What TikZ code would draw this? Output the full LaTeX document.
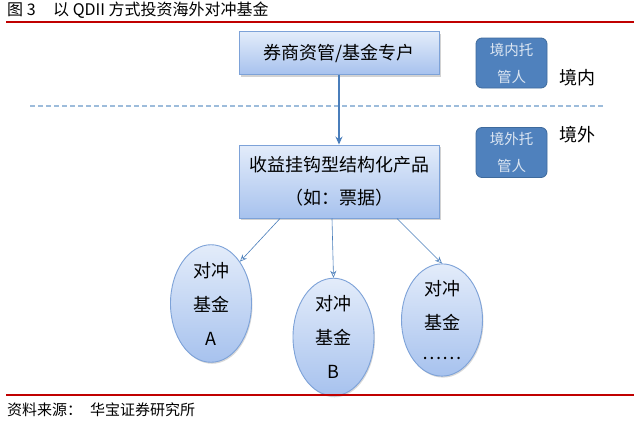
\documentclass[tikz,border=0pt]{standalone}
\usepackage{fontspec}
\setmainfont{Noto Sans CJK SC}
\newfontfamily\cjk{Noto Sans CJK SC}
\usetikzlibrary{shapes.geometric,shadows,arrows.meta}
\definecolor{boxtop}{HTML}{E3ECFA}
\definecolor{boxbot}{HTML}{A7C2EE}
\definecolor{boxline}{HTML}{7DA2D8}
\definecolor{darkbox}{HTML}{4F81BD}
\definecolor{darkline}{HTML}{3E6A9C}
\definecolor{arrowblue}{HTML}{4A7EBB}
\definecolor{dashblue}{HTML}{9DBCDB}
\definecolor{redline}{HTML}{C00000}
\definecolor{lighttext}{HTML}{DCE6F2}
\tikzset{
  lightbox/.style={draw=boxline, line width=0.9pt, top color=boxtop, bottom color=boxbot,
    drop shadow={shadow xshift=1.5pt, shadow yshift=-2pt, opacity=0.35},
    font=\fontsize{18}{33}\selectfont, align=center, inner sep=0pt},
  darkbox/.style={draw=darkline, line width=0.8pt, fill=darkbox, rounded corners=6pt,
    minimum width=71pt, minimum height=50pt, text=lighttext,
    font=\fontsize{14.5}{27}\selectfont, align=center, inner sep=0pt},
  fundcircle/.style={ellipse, draw=boxline, line width=0.9pt, top color=boxtop, bottom color=boxbot,
    drop shadow={shadow xshift=1pt, shadow yshift=-1.5pt, opacity=0.3},
    minimum width=81pt, minimum height=90pt, inner sep=0pt,
    font=\fontsize{18}{34}\selectfont, align=center},
  link/.style={draw=arrowblue, line width=0.6pt, -{Stealth[length=7pt,width=6pt,open]}},
  plain/.style={font=\fontsize{18}{22}\selectfont},
  caption/.style={anchor=west, inner sep=0pt, font=\fontsize{16}{18}\selectfont},
}
\begin{document}
\begin{tikzpicture}[x=1pt,y=-1pt]
\useasboundingbox (0,0) rectangle (640,423);
\fill[white] (0,0) rectangle (640,423);
% title
\node[caption] (fig) at (7,10) {图 3};
\node[caption] (title) at (53,10) {以 QDII 方式投资海外对冲基金};
\coordinate (rl1) at (6,22); \coordinate (rr1) at (634,22);
\draw[redline, line width=2.8pt] (rl1) -- (rr1);
% boxes
\node[lightbox, minimum width=200pt, minimum height=43pt] (top) at (339,53) {券商资管/基金专户};
\node[lightbox, minimum width=200pt, minimum height=73pt] (mid) at (339,181.5) {收益挂钩型结构化产品\\（如：票据）};
% dashed line
\coordinate (dl) at (30,106); \coordinate (dr) at (605,106);
\draw[dashblue, line width=1.2pt, dash pattern=on 5pt off 3pt] (dl) -- (dr);
% custodians
\node[darkbox] (cin) at (511.5,63) {境内托\\管人};
\node[darkbox] (cout) at (511.5,152.5) {境外托\\管人};
\node[plain] (lin) at (577,78) {境内};
\node[plain] (lout) at (577,135) {境外};
% funds
\node[fundcircle] (fa) at (211,303.5) {对冲\\基金\\A};
\node[fundcircle] (fb) at (333.5,337) {对冲\\基金\\B};
\node[fundcircle] (fc) at (442,320) {对冲\\基金\\[-4pt]……};
% arrows
\draw[arrowblue, line width=1.3pt, -{Stealth[length=8pt,width=7pt]}] (top.south) -- (mid.north);
\coordinate (s1) at (280,218.5); \coordinate (s2) at (332,218.5); \coordinate (s3) at (397,218.5);
\draw[link] (s1) -- (fa.north east);
\draw[link] (s2) -- (fb.north);
\draw[link] (s3) -- (fc.north);
% footer
\coordinate (rl2) at (6,395); \coordinate (rr2) at (634,395);
\draw[redline, line width=2.8pt] (rl2) -- (rr2);
\node[caption, font=\fontsize{15}{17}\selectfont] (srclab) at (7,410) {资料来源：};
\node[caption, font=\fontsize{15}{17}\selectfont] (src) at (90,410) {华宝证券研究所};
\end{tikzpicture}
\end{document}
